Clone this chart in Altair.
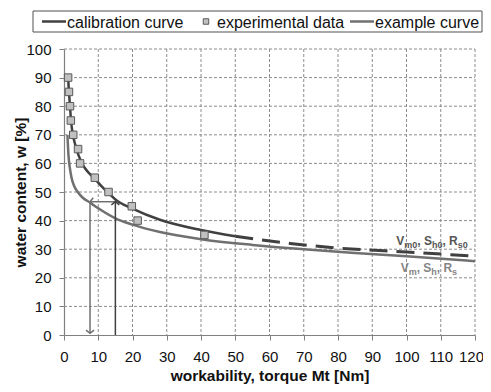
import altair as alt
import pandas as pd

# ---------------- data ----------------
exp_M = [1.2, 1.45, 1.75, 2.0, 2.7, 4.1, 4.7, 9.0, 13.0, 19.8, 21.5, 41.0]
exp_w = [90, 85, 80, 75, 70, 65, 60, 55, 50, 45, 40, 35]

cal_M = [1.2, 1.45, 1.75, 2.05, 2.6, 3.3, 4.2, 5.5, 7.0, 9.0, 11.0, 13.0, 15.0, 20.0, 28.0, 40.0, 50.0]
cal_w = [90, 85, 80, 75, 70, 66.5, 63, 59.5, 57.0, 54.6, 52.0, 49.6, 47.4, 44.2, 40.3, 36.7, 34.5]

cal_ext_M = [50, 66, 80, 100, 120]
cal_ext_w = [34.5, 32.0, 30.4, 29.0, 27.6]

ex_M = [1.0, 1.3, 1.7, 2.2, 3.0, 4.0, 5.5, 7.6, 10, 15, 20, 28, 40, 55, 70, 85, 100, 120]
ex_w = [70, 63, 58.5, 55, 52, 50, 48, 46.3, 44.3, 40.8, 38.6, 36, 33.5, 31.5, 30, 28.7, 27.5, 25.8]

# arrows: vertical at M=15 (up), horizontal at w=46.6 (left), vertical at M=7.6 (down)
arrow_up_M = [15, 15]
arrow_up_w = [0, 46.6]
arrow_left_M = [15, 7.6]
arrow_left_w = [46.6, 46.6]
arrow_down_M = [7.6, 7.6]
arrow_down_w = [46.6, 0.6]

x_ticks = list(range(0, 121, 10))
y_ticks = list(range(0, 101, 10))

legend_labels = ["calibration curve", "experimental data", "example curve"]

FONT = "Liberation Sans"
DARK = "#404040"
GREY = "#707070"
GRID = "#8c8c8c"

df_exp = pd.DataFrame({"M": exp_M, "w": exp_w})
df_cal = pd.DataFrame({"M": cal_M, "w": cal_w})
df_cal_ext = pd.DataFrame({"M": cal_ext_M, "w": cal_ext_w})
df_ex = pd.DataFrame({"M": ex_M, "w": ex_w})
df_up = pd.DataFrame({"M": arrow_up_M, "w": arrow_up_w})
df_left = pd.DataFrame({"M": arrow_left_M, "w": arrow_left_w})
df_down = pd.DataFrame({"M": arrow_down_M, "w": arrow_down_w})
df_xgrid = pd.DataFrame({"M": x_ticks[1:]})
df_ygrid = pd.DataFrame({"w": y_ticks[1:]})

xs = alt.Scale(domain=[0, 120], nice=False, zero=False)
ys = alt.Scale(domain=[0, 100], nice=False, zero=False)

x_axis = alt.Axis(values=x_ticks, title="workability, torque Mt [Nm]", format="d", grid=False,
                  labelOverlap=False, labelOffset=alt.expr("datum.value == 120 ? -4 : 0"),
                  titleY=48, titleBaseline="bottom")
y_axis = alt.Axis(values=y_ticks, title="water content, w [%]", format="d", grid=False,
                  labelOverlap=False, titleX=-44, titleY=143, titleBaseline="middle", titleAlign="center")


def X():
    return alt.X("M:Q", scale=xs, axis=x_axis)


def Y():
    return alt.Y("w:Q", scale=ys, axis=y_axis)


# grid lines drawn as rules spanning the whole plot, one per tick value
xgrid = alt.Chart(df_xgrid).mark_rule(color=GRID, strokeWidth=1, strokeDash=[3, 2], opacity=1).encode(
    x=X(), y=alt.value(0), y2=alt.value(286))
ygrid = alt.Chart(df_ygrid).mark_rule(color=GRID, strokeWidth=1, strokeDash=[3, 2], opacity=1).encode(
    y=Y(), x=alt.value(0), x2=alt.value(411))

ex_line = alt.Chart(df_ex).mark_line(color=GREY, strokeWidth=2.5, interpolate="monotone").encode(
    x=X(), y=Y(), order="M:Q")
cal_line = alt.Chart(df_cal).mark_line(color=DARK, strokeWidth=2.5, interpolate="monotone").encode(
    x=X(), y=Y(), order="M:Q")
cal_ext_line = alt.Chart(df_cal_ext).mark_line(color=DARK, strokeWidth=3, strokeDash=[18, 9],
                                               interpolate="monotone").encode(x=X(), y=Y(), order="M:Q")

up_line = alt.Chart(df_up).mark_line(color=DARK, strokeWidth=1.5).encode(x=X(), y=Y())
left_line = alt.Chart(df_left).mark_line(color=GREY, strokeWidth=1.5).encode(x=X(), y=Y())
down_line = alt.Chart(df_down).mark_line(color=GREY, strokeWidth=1.5).encode(x=X(), y=Y())

up_head = alt.Chart(df_up.tail(1)).mark_point(
    shape="M-1,0.8L0,0L1,0.8", size=64, filled=False, color=DARK, strokeWidth=1.5, opacity=1
).encode(x=X(), y=Y())
left_head = alt.Chart(df_left.tail(1)).mark_point(
    shape="M0.8,-1L0,0L0.8,1", size=64, filled=False, color=GREY, strokeWidth=1.5, opacity=1
).encode(x=X(), y=Y())
down_head = alt.Chart(df_down.tail(1)).mark_point(
    shape="M-1,-0.8L0,0L1,-0.8", size=64, filled=False, color=GREY, strokeWidth=1.5, opacity=1
).encode(x=X(), y=Y())

points = alt.Chart(df_exp).mark_point(
    shape="square", size=56, filled=True, fill="#c0c0c0", stroke="#595959", strokeWidth=1, opacity=1
).encode(x=X(), y=Y())

# curve labels with subscripts, composed of pieces (text, dx, subscript?)
label1 = [("V", 0, False), ("m0", 8, True), (",", 21, False), ("S", 27.7, False), ("h0", 35.7, True),
          (",", 46.2, False), ("R", 52.8, False), ("s0", 61.5, True)]
label2 = [("V", 0, False), ("m", 8, True), (",", 16, False), ("S", 22.6, False), ("h", 30.6, True),
          (",", 36.1, False), ("R", 42.7, False), ("s", 51.4, True)]

label_layers = []
for pieces, M0, w0, col in [(label1, 97.0, 31.3, "#555555"), (label2, 98.3, 22.1, "#858585")]:
    for txt, dx, sub in pieces:
        label_layers.append(
            alt.Chart().mark_text(
                text=txt, align="left", baseline="alphabetic", dx=dx, dy=3 if sub else 0,
                fontSize=9 if sub else 12, fontWeight="bold", font=FONT, color=col
            ).encode(
                x=alt.XDatum(M0, type="quantitative", scale=xs, axis=x_axis),
                y=alt.YDatum(w0, type="quantitative", scale=ys, axis=y_axis),
            )
        )

# legend (drawn above the plot area, in pixels relative to plot origin)
LY = -27.5
leg_box = alt.Chart().mark_rect(fill="white", stroke="#505050", strokeWidth=1).encode(
    x=alt.value(-31), x2=alt.value(418), y=alt.value(-38), y2=alt.value(-17))
leg_l1 = alt.Chart().mark_rule(color=DARK, strokeWidth=2.5).encode(
    x=alt.value(-22), x2=alt.value(2), y=alt.value(LY))
leg_sq = alt.Chart().mark_point(shape="square", size=30, filled=True, fill="#c0c0c0",
                                stroke="#595959", strokeWidth=1, opacity=1).encode(
    x=alt.value(142), y=alt.value(LY))
leg_l2 = alt.Chart().mark_rule(color=GREY, strokeWidth=2.5).encode(
    x=alt.value(286), x2=alt.value(310), y=alt.value(LY))
leg_texts = []
for txt, xp in zip(legend_labels, [3, 153, 311]):
    leg_texts.append(alt.Chart().mark_text(
        text=txt, align="left", baseline="middle", fontSize=16, font=FONT, color="#111111", dy=1
    ).encode(x=alt.value(xp), y=alt.value(LY)))

chart = alt.layer(
    xgrid, ygrid,
    ex_line, cal_line, cal_ext_line,
    up_line, left_line, down_line, up_head, left_head, down_head,
    points, *label_layers,
    leg_box, leg_l1, leg_sq, leg_l2, *leg_texts,
).properties(
    width=411, height=286,
    autosize=alt.AutoSizeParams(type="none"),
    padding={"left": 56, "top": 41, "right": 8, "bottom": 49},
).configure_view(stroke=None).configure_axis(
    labelFont=FONT, titleFont=FONT, labelFontSize=15, titleFontSize=15.5,
    labelColor="#111111", titleColor="#111111", titleFontWeight="bold",
    domainColor="#808080", tickColor="#808080", tickSize=5, domainWidth=1.2,
).configure_axisX(labelPadding=9, labelAngle=0, labelFlush=False
).configure_axisY(labelPadding=8, labelFlush=False)

chart.save("out.html", embed_options={"renderer": "svg", "actions": False})
